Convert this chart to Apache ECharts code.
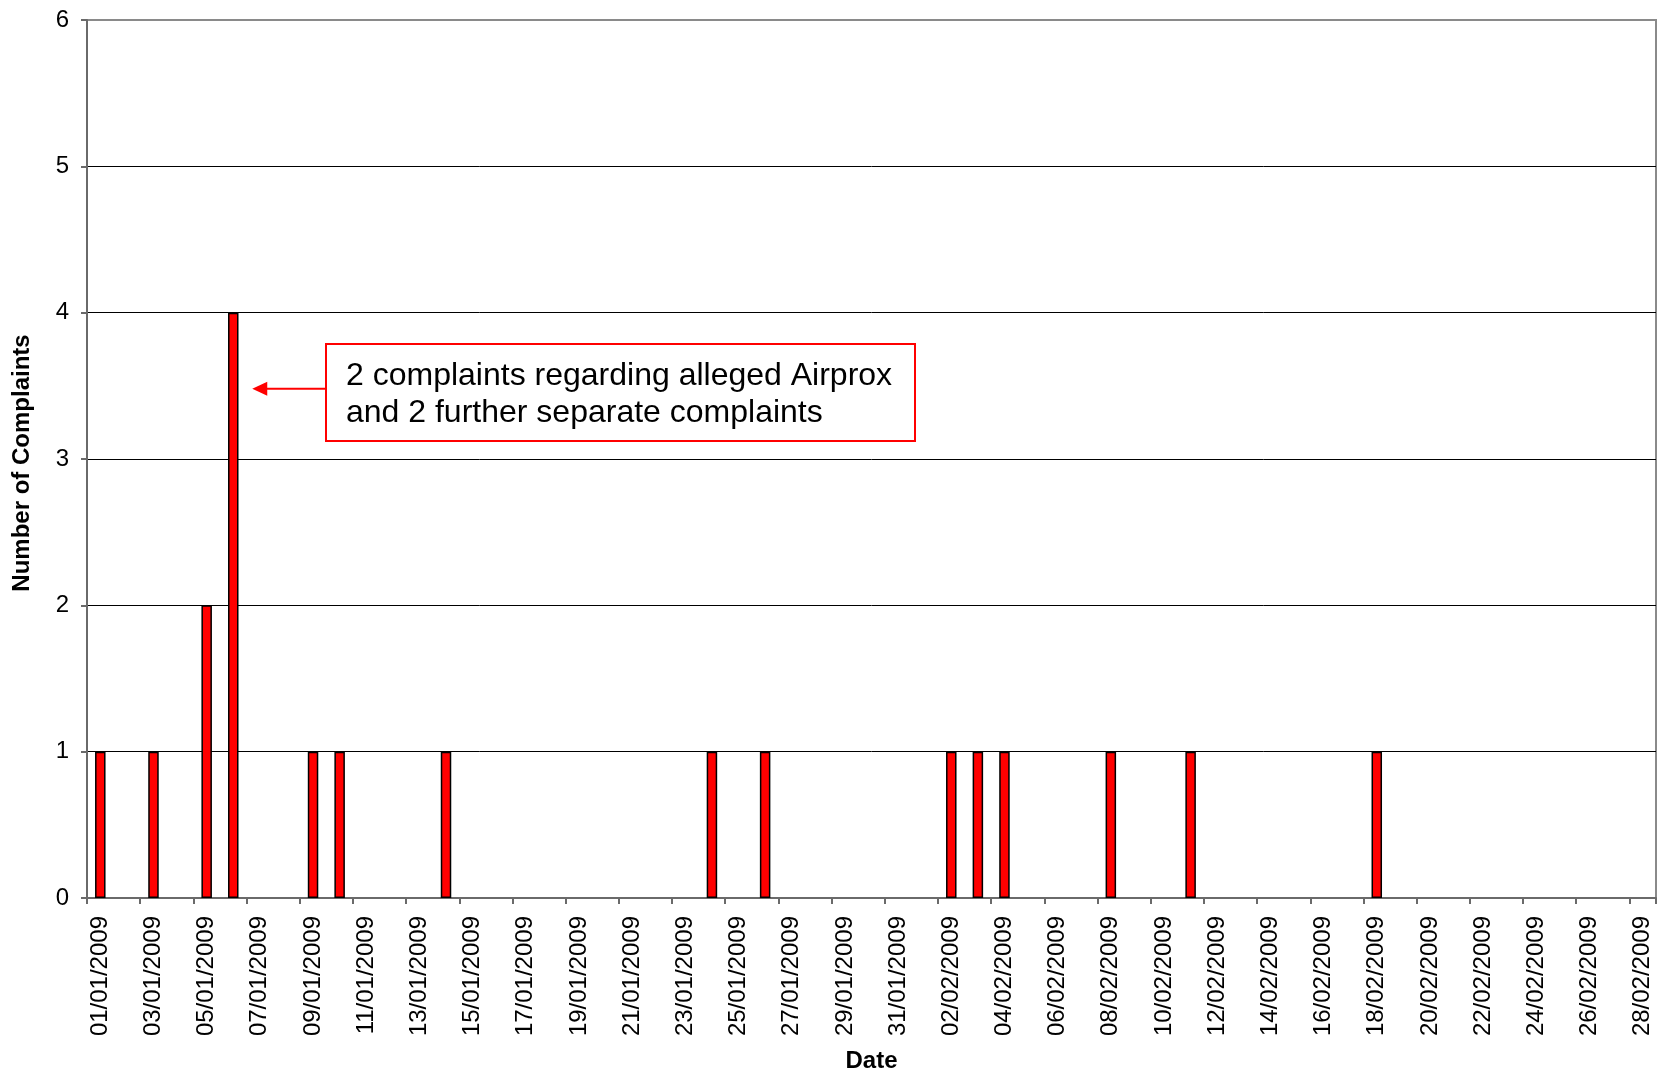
<!DOCTYPE html>
<html>
<head>
<meta charset="utf-8">
<script src="https://cdn.jsdelivr.net/npm/echarts@6/dist/echarts.min.js"></script>
<style>
html,body{margin:0;padding:0;background:#fff;}
#chart{width:1661px;height:1074px;}
</style>
</head>
<body>
<div id="chart"></div>
<script>
var dates = [
'01/01/2009','02/01/2009','03/01/2009','04/01/2009','05/01/2009','06/01/2009','07/01/2009','08/01/2009','09/01/2009','10/01/2009',
'11/01/2009','12/01/2009','13/01/2009','14/01/2009','15/01/2009','16/01/2009','17/01/2009','18/01/2009','19/01/2009','20/01/2009',
'21/01/2009','22/01/2009','23/01/2009','24/01/2009','25/01/2009','26/01/2009','27/01/2009','28/01/2009','29/01/2009','30/01/2009',
'31/01/2009','01/02/2009','02/02/2009','03/02/2009','04/02/2009','05/02/2009','06/02/2009','07/02/2009','08/02/2009','09/02/2009',
'10/02/2009','11/02/2009','12/02/2009','13/02/2009','14/02/2009','15/02/2009','16/02/2009','17/02/2009','18/02/2009','19/02/2009',
'20/02/2009','21/02/2009','22/02/2009','23/02/2009','24/02/2009','25/02/2009','26/02/2009','27/02/2009','28/02/2009'
];
var complaints = [
1,0,1,0,2,4,0,0,1,1,
0,0,0,1,0,0,0,0,0,0,
0,0,0,1,0,1,0,0,0,0,
0,0,1,1,1,0,0,0,1,0,
0,1,0,0,0,0,0,0,1,0,
0,0,0,0,0,0,0,0,0
];
var yTicks = [0,1,2,3,4,5,6];
var xTitle = 'Date';
var yTitle = 'Number of Complaints';
var annotationText = ['2 complaints regarding alleged Airprox', 'and 2 further separate complaints'];
var annotatedIndex = 5;
var arrowValue = 3.48;

var FONT = '"Liberation Sans", Arial, sans-serif';
var chart = echarts.init(document.getElementById('chart'));
var barData = complaints.map(function (v) {
  return v > 0 ? v : {value: v, itemStyle: {borderWidth: 0}};
});
var option = {
  animation: false,
  backgroundColor: '#ffffff',
  textStyle: {fontFamily: FONT},
  grid: {left: 87, right: 5, top: 20, bottom: 176, containLabel: false, outerBoundsMode: 'none',
         show: true, borderColor: '#8a8a8a', borderWidth: 2, backgroundColor: '#ffffff'},
  xAxis: {
    type: 'category',
    data: dates,
    boundaryGap: true,
    name: xTitle,
    nameLocation: 'middle',
    nameGap: 151,
    nameTextStyle: {fontFamily: FONT, fontSize: 24, fontWeight: 'bold', color: '#000'},
    axisLine: {lineStyle: {color: '#6a6a6a', width: 2}},
    axisTick: {show: true, interval: 1, length: 6, lineStyle: {color: '#6a6a6a', width: 2}},
    axisLabel: {interval: 1, rotate: 90, margin: 18, fontFamily: FONT, fontSize: 24, color: '#000'},
    splitLine: {show: false}
  },
  yAxis: {
    type: 'value',
    min: yTicks[0], max: yTicks[yTicks.length - 1], interval: 1,
    axisLine: {show: true, lineStyle: {color: '#6a6a6a', width: 2}},
    axisTick: {show: true, length: 6, lineStyle: {color: '#6a6a6a', width: 2}},
    axisLabel: {margin: 18, fontFamily: FONT, fontSize: 24, color: '#000'},
    splitLine: {show: true, lineStyle: {color: ['#000','#000','#000','#000','#000','#000','#8a8a8a'], width: 1}}
  },
  series: [{
    type: 'bar',
    data: barData,
    barWidth: 10.5,
    itemStyle: {color: '#ff0000', borderColor: '#000000', borderWidth: 1.5}
  }]
};
chart.setOption(option);

var tip = chart.convertToPixel({xAxisIndex: 0, yAxisIndex: 0}, [annotatedIndex, arrowValue]);
var tipX = tip[0] + 19, tipY = tip[1];
var boxLeft = 326, boxTop = 344, boxRight = 915, boxBottom = 441;
chart.setOption({
  graphic: [
    {type: 'text', x: 22, y: 463, rotation: Math.PI / 2, z: 50,
     style: {text: yTitle, font: 'bold 24px ' + FONT, fill: '#000', textAlign: 'center', textVerticalAlign: 'middle'}},
    {type: 'rect', shape: {x: boxLeft, y: boxTop, width: boxRight - boxLeft, height: boxBottom - boxTop},
     style: {fill: '#ffffff', stroke: '#ff0000', lineWidth: 2}, z: 100},
    {type: 'text', left: 346, top: 358, z: 101,
     style: {text: annotationText.join('\n'), font: '32px ' + FONT, fill: '#000', lineHeight: 37}},
    {type: 'line', shape: {x1: boxLeft, y1: tipY, x2: tipX + 14, y2: tipY},
     style: {stroke: '#ff0000', lineWidth: 2}, z: 100},
    {type: 'polygon', shape: {points: [[tipX, tipY], [tipX + 15, tipY - 7], [tipX + 15, tipY + 7]]},
     style: {fill: '#ff0000'}, z: 100}
  ]
});
</script>
</body>
</html>
